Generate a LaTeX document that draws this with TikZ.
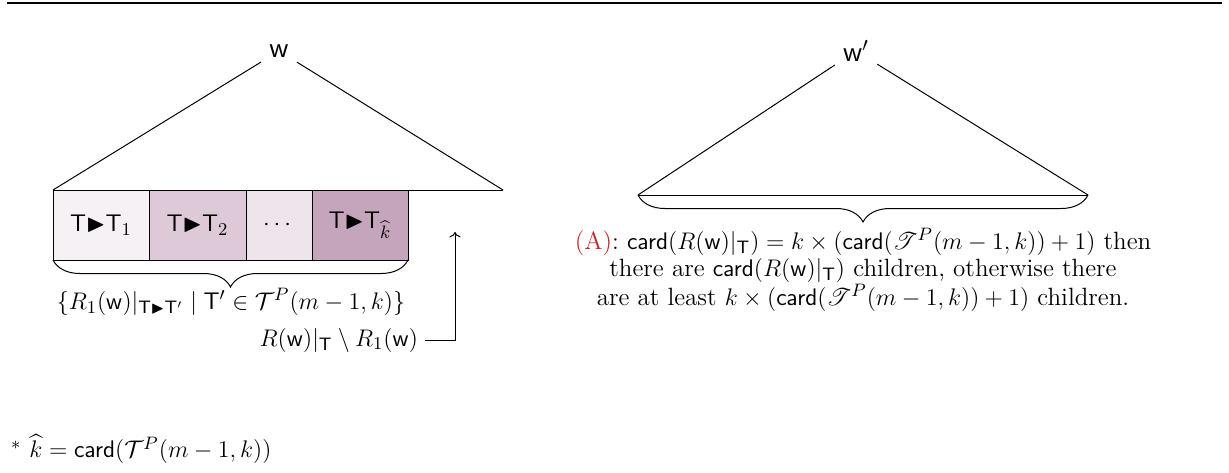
\documentclass[tikz,border=0pt]{standalone}
\usepackage{amsmath,amssymb,mathrsfs}
\usepackage{xcolor}
\usetikzlibrary{arrows.meta,calc,positioning,decorations.pathreplacing}
\definecolor{cellPurple}{HTML}{8C4B78}
\definecolor{linkRed}{HTML}{C62828}
\newcommand{\tri}{\mathsf{T}{\blacktriangleright}\mathsf{T}}
\tikzset{
  apex/.style={font=\sffamily\Large, inner sep=4pt},
  cell/.style={rectangle, draw=black, line width=0.5pt, outer sep=0pt, minimum height=35pt, inner sep=2pt, anchor=north west},
  brace/.style={decorate, decoration={brace, mirror, amplitude=13.5pt}, line width=0.5pt},
  edge/.style={draw=black, line width=0.5pt},
  note/.style={align=center}
}

\begin{document}
\begin{tikzpicture}[x=0.5pt,y=0.5pt, font=\fontsize{12.5}{13.5}\selectfont]
\useasboundingbox (0,0) rectangle (1229,472);

% --------------------------------------------------------------------------
% rule
% --------------------------------------------------------------------------
\coordinate (ruleW) at (7,469);
\coordinate (ruleE) at (1222,469);
\draw[line width=0.7pt] (ruleW) -- (ruleE);

% --------------------------------------------------------------------------
% left tree
% --------------------------------------------------------------------------
\node[apex] (wLeft) at (279,421) {w};
\node[cell, fill=cellPurple!8, minimum width=48pt] (cell1) at (53,282) {$\tri_1$};
\node[cell, fill=cellPurple!30, minimum width=48.5pt, right=0pt of cell1] (cell2) {$\tri_2$};
\node[cell, fill=cellPurple!15, minimum width=33pt, right=0pt of cell2] (cell3) {$\cdots$};
\node[cell, fill=cellPurple!50, minimum width=48pt, right=0pt of cell3] (cell4) {$\tri_{\widehat{k}}$};
\coordinate (lBaseE) at (503,282);

\draw[edge] (wLeft) -- (cell1.north west);
\draw[edge] (wLeft) -- (lBaseE);
\draw[edge] (cell4.north east) -- (lBaseE);

\draw[brace] (cell1.south west) -- (cell4.south east);
\node[note] (subsetLbl) at (231,170) {$\{R_1(\mathsf{w})|_{\tri'} \mid \mathsf{T}' \in \mathcal{T}^P(m-1,k)\}$};

\node[note, anchor=east] (restLbl) at (425,132) {$R(\mathsf{w})|_{\mathsf{T}} \setminus R_1(\mathsf{w})$};
\coordinate (restTip) at (455,240);
\draw[edge, ->] (restLbl.east) -| (restTip);

% --------------------------------------------------------------------------
% right tree
% --------------------------------------------------------------------------
\node[apex] (wRight) at (856,421) {w$'$};
\coordinate (rBaseW) at (638,277);
\coordinate (rBaseE) at (1088,277);
\draw[edge] (wRight) -- (rBaseW);
\draw[edge] (wRight) -- (rBaseE);
\draw[edge] (rBaseW) -- (rBaseE);

\draw[brace] (rBaseW) -- (rBaseE);
\node[note] (cardNote) at (863,202) {\textcolor{linkRed}{(A)}: $\mathsf{card}(R(\mathsf{w})|_{\mathsf{T}}) = k \times (\mathsf{card}(\mathscr{T}^P(m-1,k))+1)$ then\\
  there are $\mathsf{card}(R(\mathsf{w})|_{\mathsf{T}})$ children, otherwise there\\
  are at least $k \times (\mathsf{card}(\mathscr{T}^P(m-1,k))+1)$ children.};

% --------------------------------------------------------------------------
% footnote
% --------------------------------------------------------------------------
\node[note, anchor=west] (starNote) at (4,23) {$^*$ $\widehat{k} = \mathsf{card}(\mathcal{T}^P(m-1,k))$};

\end{tikzpicture}
\end{document}
